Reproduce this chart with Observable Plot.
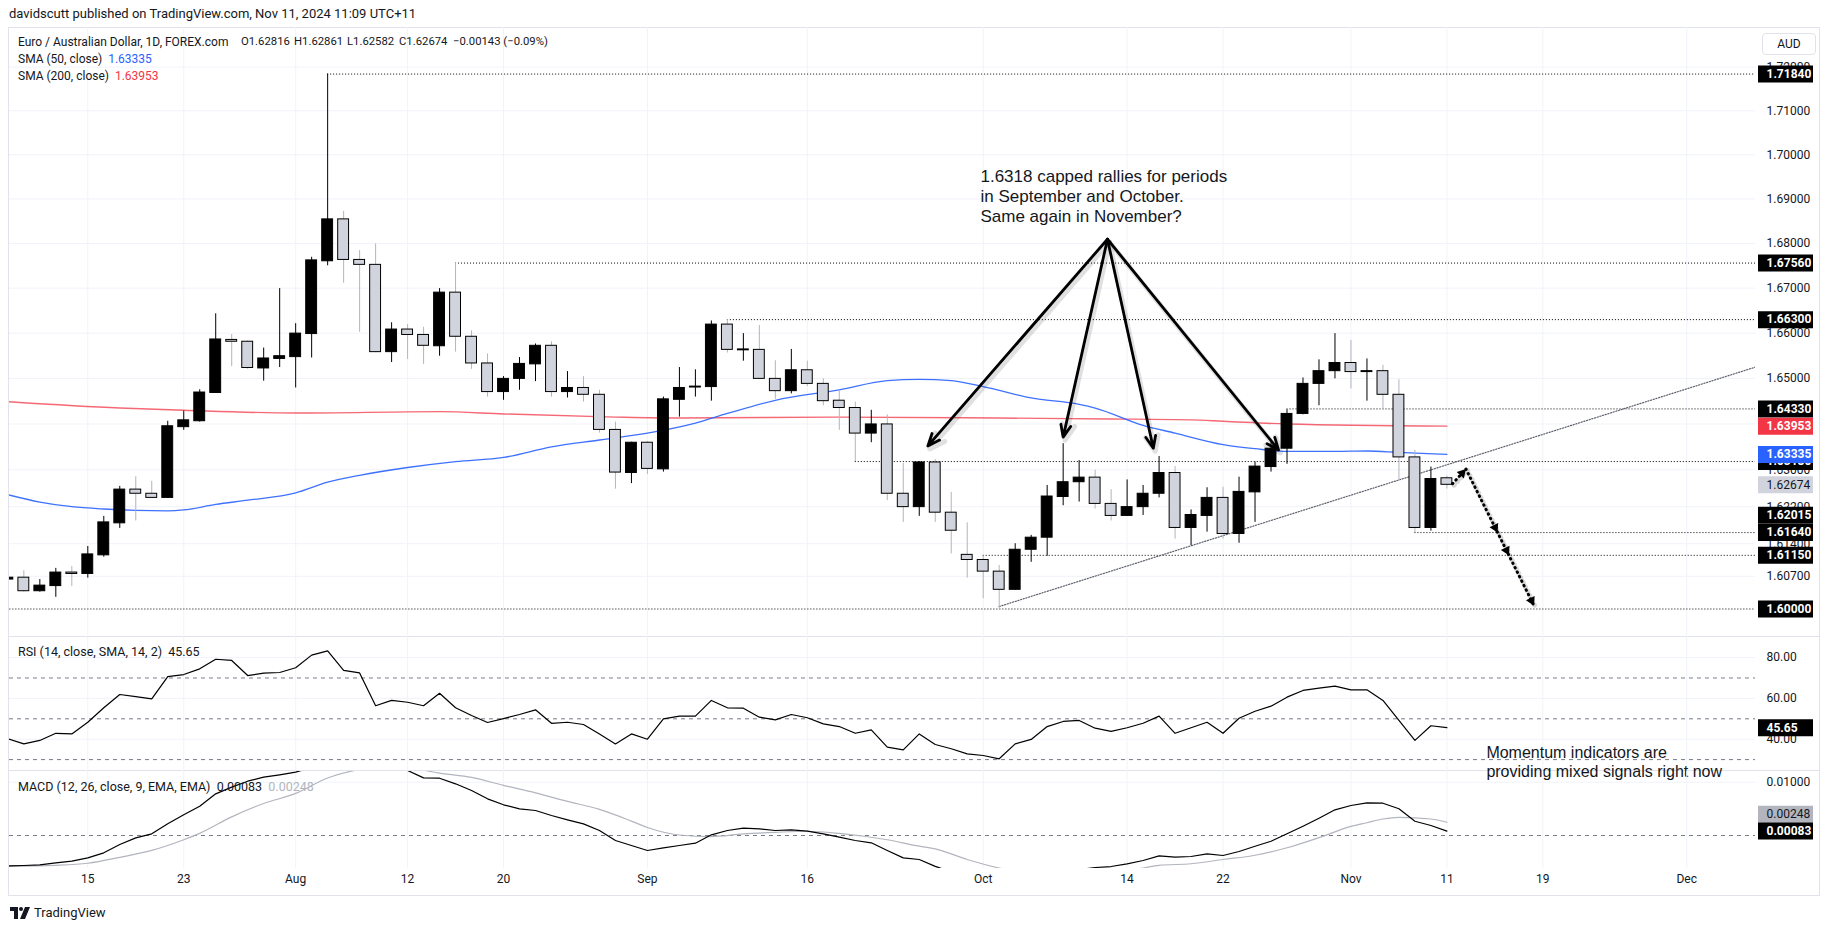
<!DOCTYPE html>
<html>
<head>
<meta charset="utf-8">
<script src="https://cdn.jsdelivr.net/npm/d3@7"></script>
<script src="https://cdn.jsdelivr.net/npm/@observablehq/plot@0.6"></script>
<style>
  html, body { margin: 0; padding: 0; background: #fff; }
  #root { position: relative; width: 1835px; height: 931px; overflow: hidden; background: #fff;
          font-family: Roboto, "Liberation Sans", Arial, sans-serif; color: #131722; }
</style>
</head>
<body>
<div id="root"></div>
<script>
// ---------------- DATA ----------------
// Daily EUR/AUD bars; bar index 0 = 15 Jul 2024 (trading days only)
const firstBar = -5;
const opens = [
  1.6063, 1.6067, 1.6038, 1.6049, 1.6078,
  1.6075, 1.6115, 1.6184, 1.6257, 1.6248,
  1.6239, 1.6393, 1.6406, 1.6468, 1.6585,
  1.6581, 1.6522, 1.6543, 1.6547, 1.6598,
  1.6760, 1.6854, 1.6763, 1.6752, 1.6558,
  1.6608, 1.6596, 1.6571, 1.6690, 1.6592,
  1.6533, 1.6470, 1.6499, 1.6531, 1.6572,
  1.6470, 1.6479, 1.6464, 1.6387, 1.6293,
  1.6359, 1.6301, 1.6453, 1.6480, 1.6481,
  1.6619, 1.6562, 1.6563, 1.6499, 1.6472,
  1.6518, 1.6488, 1.6451, 1.6435, 1.6379,
  1.6399, 1.6248, 1.6219, 1.6316, 1.6207,
  1.6116, 1.6105, 1.6080, 1.6041, 1.6127,
  1.6153, 1.6241, 1.6273, 1.6283, 1.6226,
  1.6200, 1.6219, 1.6248, 1.6293, 1.6174,
  1.6200, 1.6239, 1.6161, 1.6251, 1.6306,
  1.6346, 1.6422, 1.6488, 1.6516, 1.6534,
  1.6514, 1.6516, 1.6464, 1.6327, 1.6174,
  1.62816
];
const highs = [
  1.6070, 1.6082, 1.6063, 1.6087, 1.6091,
  1.6134, 1.6199, 1.6264, 1.6285, 1.6275,
  1.6406, 1.6428, 1.6475, 1.6643, 1.6597,
  1.6583, 1.6567, 1.6699, 1.6621, 1.6769,
  1.7184, 1.6872, 1.6784, 1.6799, 1.6623,
  1.6619, 1.6613, 1.6699, 1.6756, 1.6605,
  1.6554, 1.6504, 1.6546, 1.6576, 1.6581,
  1.6515, 1.6504, 1.6474, 1.6404, 1.6360,
  1.6361, 1.6459, 1.6524, 1.6519, 1.6627,
  1.6630, 1.6599, 1.6617, 1.6539, 1.6564,
  1.6538, 1.6499, 1.6474, 1.6448, 1.6430,
  1.6420, 1.6314, 1.6318, 1.6322, 1.6251,
  1.6185, 1.6114, 1.6093, 1.6140, 1.6158,
  1.6266, 1.6357, 1.6320, 1.6299, 1.6257,
  1.6278, 1.6266, 1.6329, 1.6307, 1.6213,
  1.6261, 1.6262, 1.6284, 1.6317, 1.6360,
  1.6431, 1.6501, 1.6541, 1.6599, 1.6584,
  1.6543, 1.6529, 1.6497, 1.6342, 1.6306,
  1.62861
];
const lows = [
  1.6060, 1.6036, 1.6036, 1.6025, 1.6048,
  1.6066, 1.6111, 1.6173, 1.6189, 1.6238,
  1.6238, 1.6386, 1.6404, 1.6467, 1.6526,
  1.6520, 1.6494, 1.6524, 1.6479, 1.6545,
  1.6750, 1.6711, 1.6602, 1.6557, 1.6535,
  1.6542, 1.6531, 1.6549, 1.6558, 1.6520,
  1.6459, 1.6452, 1.6474, 1.6493, 1.6459,
  1.6457, 1.6448, 1.6380, 1.6258, 1.6270,
  1.6290, 1.6295, 1.6415, 1.6459, 1.6450,
  1.6556, 1.6538, 1.6498, 1.6454, 1.6466,
  1.6482, 1.6440, 1.6386, 1.6318, 1.6359,
  1.6233, 1.6186, 1.6199, 1.6186, 1.6118,
  1.6066, 1.6022, 1.6000, 1.6040, 1.6100,
  1.6113, 1.6222, 1.6230, 1.6215, 1.6189,
  1.6199, 1.6201, 1.6239, 1.6150, 1.6136,
  1.6165, 1.6150, 1.6141, 1.6186, 1.6295,
  1.6312, 1.6420, 1.6440, 1.6499, 1.6477,
  1.6450, 1.6431, 1.6276, 1.6164, 1.6167,
  1.62582
];
const closes = [
  1.6067, 1.6038, 1.6050, 1.6078, 1.6075,
  1.6117, 1.6186, 1.6257, 1.6248, 1.6239,
  1.6395, 1.6408, 1.6469, 1.6586, 1.6581,
  1.6523, 1.6544, 1.6549, 1.6599, 1.6762,
  1.6854, 1.6763, 1.6752, 1.6558, 1.6608,
  1.6596, 1.6572, 1.6690, 1.6592, 1.6533,
  1.6470, 1.6499, 1.6532, 1.6572, 1.6470,
  1.6479, 1.6464, 1.6387, 1.6294, 1.6359,
  1.6302, 1.6454, 1.6479, 1.6482, 1.6619,
  1.6563, 1.6564, 1.6499, 1.6472, 1.6518,
  1.6488, 1.6450, 1.6435, 1.6379, 1.6399,
  1.6248, 1.6219, 1.6316, 1.6207, 1.6168,
  1.6105, 1.6080, 1.6041, 1.6127, 1.6153,
  1.6242, 1.6273, 1.6283, 1.6226, 1.6200,
  1.6219, 1.6248, 1.6293, 1.6174, 1.6202,
  1.6239, 1.6161, 1.6252, 1.6307, 1.6346,
  1.6422, 1.6488, 1.6516, 1.6534, 1.6514,
  1.6516, 1.6464, 1.6327, 1.6174, 1.6280,
  1.62674
];

// Moving averages (bar, value)
const sma50Bars   = [-5, -3, -1, 1, 3, 5, 6, 8, 10, 13, 15, 17, 20, 23, 26, 29, 32, 35, 38, 40, 43, 47, 50, 52, 54, 56, 59, 62, 63, 66, 68, 71, 73, 75, 78, 80, 82, 85];
const sma50Values = [1.6246, 1.6230, 1.6220, 1.6215, 1.6212, 1.6211, 1.6213, 1.6225, 1.6234, 1.6250, 1.6273, 1.6288, 1.6305, 1.6318, 1.6327, 1.6350, 1.6365, 1.6380, 1.6402, 1.6423, 1.6452, 1.6475, 1.6495, 1.6498, 1.6495, 1.6482, 1.6457, 1.6443, 1.6435, 1.6397, 1.6380, 1.6355, 1.6346, 1.6340, 1.6340, 1.6341, 1.6338, 1.63335];
const sma200Bars   = [-5, 2, 6, 13, 22, 26, 33, 37, 47, 57, 64, 69, 71, 75, 85];
const sma200Values = [1.6449, 1.6435, 1.6430, 1.6424, 1.6427, 1.6422, 1.6415, 1.6413, 1.6415, 1.6413, 1.6411, 1.6409, 1.6406, 1.6400, 1.63953];

// RSI (14) per bar from firstBar
const rsiValues = [
  40.2, 37.7, 39.4, 42.9, 42.6,
  48.3, 55.4, 61.9, 60.9, 59.8,
  70.7, 71.7, 74.5, 79.2, 78.6,
  71.2, 72.4, 72.7, 75.0, 81.2,
  83.3, 73.7, 72.5, 56.4, 59.0,
  58.1, 56.4, 62.5, 55.4, 51.6,
  48.2, 50.1, 52.1, 54.4, 47.8,
  48.3, 47.2, 42.6, 37.7, 42.6,
  40.0, 50.0, 51.3, 51.3, 59.0,
  55.4, 55.2, 50.8, 49.5, 52.1,
  50.5, 47.5, 46.2, 42.9, 44.6,
  36.1, 34.8, 42.6, 37.4, 35.3,
  32.8, 32.0, 30.4, 37.7, 39.9,
  46.2, 48.7, 49.2, 45.4, 43.8,
  45.6, 47.8, 51.3, 42.9, 45.6,
  48.3, 42.9, 50.3, 53.7, 56.2,
  60.6, 63.9, 65.0, 66.0, 64.2,
  64.2, 59.0, 49.2, 39.4, 46.6,
  45.65
];
const rsiLevels = [70, 50, 30];
const rsiTicks = [80, 60, 40];

// MACD (12, 26, 9) per bar from firstBar
const macdValues = [
  -0.0057, -0.00563, -0.0055, -0.00513, -0.00482,
  -0.00419, -0.00325, -0.00169, -0.00044, 0.00031,
  0.00219, 0.00388, 0.0055, 0.00782, 0.00907,
  0.01019, 0.01094, 0.01138, 0.01188, 0.0128,
  0.0142, 0.0150, 0.0152, 0.0146, 0.0136,
  0.0122, 0.01082, 0.01075, 0.0097, 0.00844,
  0.00688, 0.00576, 0.00501, 0.00469, 0.00375,
  0.00294, 0.00219, 0.00094, -0.00094, -0.00188,
  -0.00281, -0.00231, -0.00188, -0.00144, 0.00013,
  0.00094, 0.00137, 0.00126, 0.00094, 0.00107,
  0.00081, 0.00031, -0.00031, -0.00094, -0.00137,
  -0.00281, -0.00419, -0.0045, -0.0058, -0.0068,
  -0.0078, -0.0086, -0.0092, -0.0090, -0.0085,
  -0.0077, -0.0070, -0.0064, -0.0060, -0.00582,
  -0.00531, -0.00469, -0.00381, -0.00407, -0.00394,
  -0.00343, -0.00375, -0.0030, -0.00201, -0.00107,
  0.00032, 0.00175, 0.00325, 0.00482, 0.00563,
  0.00613, 0.00606, 0.00501, 0.00268, 0.00188,
  0.00083
];
const signalBars   = [-5, -2, 0, 2, 4, 6, 7, 9, 11, 13, 15, 17, 19, 20, 22, 24, 26, 28, 30, 32, 34, 35, 37, 39, 41, 43, 45, 47, 50, 52, 53, 55, 57, 59, 61, 63, 66, 67, 69, 71, 73, 75, 77, 79, 80, 81, 82, 84, 85];
const signalValues = [-0.0058, -0.0056, -0.0052, -0.0041, -0.0028, -0.0008, 0.0004, 0.0035, 0.0060, 0.0079, 0.0108, 0.0124, 0.0131, 0.0128, 0.0117, 0.0109, 0.0094, 0.0080, 0.0064, 0.0049, 0.0027, 0.0015, 0.0001, -0.0002, 0.0003, 0.0006, 0.0008, 0.0004, -0.0008, -0.0020, -0.0025, -0.0045, -0.0061, -0.0071, -0.0075, -0.0073, -0.0061, -0.0056, -0.0053, -0.0045, -0.0037, -0.0023, -0.0004, 0.0017, 0.0024, 0.0031, 0.0034, 0.0031, 0.00248];
const macdTicks = [0.01];

// Time axis
const tickBars   = [0, 6, 13, 20, 26, 35, 45, 56, 65, 71, 79, 85, 91, 100];
const tickLabels = ["15", "23", "Aug", "12", "20", "Sep", "16", "Oct", "14", "22", "Nov", "11", "19", "Dec"];

// Price axis labels
const priceTicks = [1.72, 1.71, 1.70, 1.69, 1.68, 1.67, 1.66, 1.65, 1.64, 1.63, 1.622, 1.614, 1.607];
const priceTagValues = [1.7184, 1.6756, 1.6630, 1.6433, 1.6318, 1.63953, 1.63335, 1.62674, 1.62015, 1.6164, 1.6115, 1.6000];
const priceTagKinds  = ["level", "level", "level", "level", "level", "sma200", "sma50", "last", "level", "level", "level", "level"];

// Horizontal drawn levels (price, first bar)
const levelPrices = [1.7184, 1.6756, 1.6630, 1.6433, 1.6318, 1.6164, 1.6115, 1.6000];
const levelStarts = [15, 23, 40, 75, 48, 83, 56, -6];

// Rising trend line (bar, price)
const trendBars = [57, 104.3];
const trendPrices = [1.60053, 1.6525];

// Callout arrows: apex and targets (bar, price)
const calloutApexBar = 63.77, calloutApexPrice = 1.68094;
const calloutTargetBars = [52.54, 61.0, 66.64, 74.47];
const calloutTargetPrices = [1.6352, 1.63712, 1.6347, 1.63433];
const calloutText = "1.6318 capped rallies for periods\nin September and October.\nSame again in November?";
const calloutTextBar = 55.83, calloutTextPrice = 1.69078;

// Forecast dotted path (bar, price)
const forecastBars = [85.35, 86.19, 88.17, 88.88, 90.45];
const forecastPrices = [1.62697, 1.63018, 1.6164, 1.6115, 1.6007];

const momentumText = "Momentum indicators are\nproviding mixed signals right now";
const momentumBar = 87.47, momentumRsi = 28.97;

// Legend
const legendTitle = "Euro / Australian Dollar, 1D, FOREX.com";
const legendChange = "−0.00143 (−0.09%)";

// ---------------- LAYOUT / STYLE ----------------
const plotLeft = 9, plotW = 1746, axisLeft = 1755, axisW = 65;
const priceTop = 27, priceH = 610;
const rsiTop = 637, rsiH = 134;
const macdTop = 771, macdH = 97, timeH = 27;
const xDomain = [-4.897, 104.30];
const priceDomain = [1.593926, 1.729115];
const rsiDomain = [24.17, 89.85];
const macdDomain = [-0.00619, 0.01201];
const gridColor = "#f0f3fa";
const font = "Roboto, 'Liberation Sans', Arial, sans-serif";
const baseStyle = {background: "transparent", fontFamily: font, fontSize: "12px", overflow: "visible", maxWidth: "none"};
const tagStyles = {
  level:  {bg: "#000000", fg: "#ffffff", weight: "bold"},
  sma200: {bg: "#f23645", fg: "#ffffff", weight: "bold"},
  sma50:  {bg: "#2962ff", fg: "#ffffff", weight: "bold"},
  last:   {bg: "#d1d4dc", fg: "#131722", weight: "normal"}
};

const root = document.getElementById("root");
function addDiv(css, html) {
  const d = document.createElement("div");
  d.style.cssText = css;
  if (html != null) d.innerHTML = html;
  root.appendChild(d);
  return d;
}
function place(svg, left, top) {
  svg.style.position = "absolute";
  svg.style.left = left + "px";
  svg.style.top = top + "px";
  root.appendChild(svg);
}

// frame and separators
addDiv("position:absolute;left:8px;top:27px;width:1812px;height:869px;border:1px solid #e0e3eb;box-sizing:border-box;");
addDiv("position:absolute;left:9px;top:636px;width:1811px;height:1px;background:#e0e3eb;");
addDiv("position:absolute;left:9px;top:770px;width:1811px;height:1px;background:#e0e3eb;");

// ---------------- derived tables ----------------
const bars = opens.map((o, i) => ({bar: firstBar + i, open: o, high: highs[i], low: lows[i], close: closes[i]}));
const isUp = d => d.close >= d.open;
const sma50 = sma50Bars.map((b, i) => ({bar: b, value: sma50Values[i]}));
const sma200 = sma200Bars.map((b, i) => ({bar: b, value: sma200Values[i]}));
const levels = levelPrices.map((p, i) => ({price: p, bar: levelStarts[i]}));
const trend = trendBars.map((b, i) => ({bar: b, price: trendPrices[i]}));
const callouts = calloutTargetBars.map((b, i) => ({bar: b, price: calloutTargetPrices[i]}));
const forecast = forecastBars.map((b, i) => ({bar: b, price: forecastPrices[i]}));
const rsi = rsiValues.map((v, i) => ({bar: firstBar + i, value: v}));
const macd = macdValues.map((v, i) => ({bar: firstBar + i, value: v}));
const signal = signalBars.map((b, i) => ({bar: b, value: signalValues[i]}));
const ticks = tickBars.map((b, i) => ({bar: b, label: tickLabels[i]}));

// arrow heads for the dotted forecast path, oriented in screen space
const xS = Plot.scale({x: {domain: xDomain, range: [0, plotW]}});
const yS = Plot.scale({y: {type: "log", domain: priceDomain, range: [priceH, 0]}});
const headR = 3.6;
const tipOff = 2 * Math.sqrt(Math.PI * headR * headR / (3 * Math.sqrt(3)));
const heads = forecast.slice(1).map((p1, k) => {
  const p0 = forecast[k];
  const x0 = xS.apply(p0.bar), y0 = yS.apply(p0.price);
  const x1 = xS.apply(p1.bar), y1 = yS.apply(p1.price);
  const dx = x1 - x0, dy = y1 - y0, L = Math.hypot(dx, dy);
  const cx = x1 - dx / L * tipOff, cy = y1 - dy / L * tipOff;
  return {bar: xS.invert(cx), price: yS.invert(cy), angle: Math.atan2(dx, -dy) * 180 / Math.PI};
});

// ---------------- PRICE PANE ----------------
const pricePlot = Plot.plot({
  width: plotW, height: priceH, margin: 0,
  x: {domain: xDomain, axis: null},
  y: {type: "log", domain: priceDomain, axis: null},
  color: {type: "identity"},
  style: baseStyle,
  marks: [
    Plot.ruleX(tickBars, {x: d => d, stroke: gridColor}),
    Plot.ruleY(priceTicks, {y: d => d, stroke: gridColor}),
    Plot.line(sma200, {x: "bar", y: "value", stroke: "#f23645", strokeOpacity: 0.75, strokeWidth: 1.4, curve: "monotone-x", clip: true}),
    Plot.line(sma50, {x: "bar", y: "value", stroke: "#2962ff", strokeOpacity: 0.9, strokeWidth: 1.3, curve: "monotone-x", clip: true}),
    Plot.ruleY(levels, {y: "price", x1: "bar", x2: xDomain[1], stroke: "#000", strokeWidth: 1, strokeDasharray: "1,2", clip: true}),
    Plot.line(trend, {x: "bar", y: "price", stroke: "#5d606b", strokeWidth: 1.2, strokeDasharray: "1.2,1.6", clip: true}),
    Plot.ruleX(bars, {x: "bar", y1: "low", y2: "high", stroke: d => isUp(d) ? "#000000" : "#b2b5be", strokeWidth: 1, clip: true}),
    Plot.rect(bars, {x1: d => d.bar - 0.34, x2: d => d.bar + 0.34, y1: "open", y2: "close",
      fill: d => isUp(d) ? "#000000" : "#d1d4dc", stroke: "#000", strokeWidth: 1, clip: true}),
    Plot.arrow(callouts, {x1: () => calloutApexBar + 0.12, y1: () => calloutApexPrice * 0.9996, x2: d => d.bar + 0.12, y2: d => d.price * 0.9996,
      stroke: "#000", strokeOpacity: 0.12, strokeWidth: 5, headLength: 5, headAngle: 45}),
    Plot.arrow(callouts, {x1: () => calloutApexBar, y1: () => calloutApexPrice, x2: "bar", y2: "price",
      stroke: "#000", strokeWidth: 2.8, headLength: 7, headAngle: 45}),
    Plot.text([calloutText], {x: () => calloutTextBar, y: () => calloutTextPrice, text: d => d,
      textAnchor: "start", lineAnchor: "middle", lineHeight: 1.2, fontSize: 17, fill: "#131722",
      fontFamily: "'Liberation Sans', Arial, sans-serif"}),
    Plot.line(forecast, {x: "bar", y: "price", stroke: "#000", strokeOpacity: 0.15, strokeWidth: 5, strokeDasharray: "0.5,4.5", strokeLinecap: "round", dx: 1.5, dy: 1.5}),
    Plot.line(forecast, {x: "bar", y: "price", stroke: "#000", strokeWidth: 3, strokeDasharray: "0.5,4.5", strokeLinecap: "round"}),
    Plot.dot(heads, {x: "bar", y: "price", rotate: "angle", symbol: "triangle", r: headR, fill: "#000", stroke: "none"})
  ]
});
place(pricePlot, plotLeft, priceTop);

// price axis
const priceTags = priceTagValues.map((v, i) => ({value: v, ...tagStyles[priceTagKinds[i]]}));
const priceAxis = Plot.plot({
  width: axisW, height: priceH, marginLeft: 3, marginRight: 7, marginTop: 0, marginBottom: 0,
  y: {type: "log", domain: priceDomain, axis: null},
  color: {type: "identity"},
  style: baseStyle,
  marks: [
    Plot.text(priceTicks, {y: d => d, text: d => d.toFixed(5), frameAnchor: "left", dx: 8, textAnchor: "start", fill: "#131722", fontSize: 12}),
    ...priceTags.flatMap(t => [
      Plot.ruleY([t], {y: "value", stroke: "bg", strokeWidth: 17}),
      Plot.text([t], {y: "value", text: d => d.value.toFixed(5), frameAnchor: "left", dx: 8, textAnchor: "start", fill: "fg", fontWeight: t.weight, fontSize: 12})
    ])
  ]
});
place(priceAxis, axisLeft, priceTop);

// ---------------- RSI PANE ----------------
const rsiPlot = Plot.plot({
  width: plotW, height: rsiH, margin: 0,
  x: {domain: xDomain, axis: null},
  y: {domain: rsiDomain, axis: null},
  style: baseStyle,
  marks: [
    Plot.ruleX(tickBars, {x: d => d, stroke: gridColor}),
    Plot.ruleY(rsiTicks, {y: d => d, stroke: gridColor}),
    Plot.ruleY(rsiLevels, {y: d => d, stroke: "#787b86", strokeDasharray: "4,4"}),
    Plot.line(rsi, {x: "bar", y: "value", stroke: "#000", strokeWidth: 1.2, clip: true}),
    Plot.text([momentumText], {x: () => momentumBar, y: () => momentumRsi, text: d => d, textAnchor: "start",
      lineAnchor: "middle", lineHeight: 1.19, fontSize: 16, fill: "#131722", fontFamily: "'Liberation Sans', Arial, sans-serif"})
  ]
});
place(rsiPlot, plotLeft, rsiTop);

const rsiLast = rsiValues[rsiValues.length - 1];
const rsiAxis = Plot.plot({
  width: axisW, height: rsiH, marginLeft: 3, marginRight: 7, marginTop: 0, marginBottom: 0,
  y: {domain: rsiDomain, axis: null},
  style: baseStyle,
  marks: [
    Plot.text(rsiTicks, {y: d => d, text: d => d.toFixed(2), frameAnchor: "left", dx: 8, textAnchor: "start", fill: "#131722", fontSize: 12}),
    Plot.ruleY([rsiLast], {y: d => d, stroke: "#000", strokeWidth: 17}),
    Plot.text([rsiLast], {y: d => d, text: d => d.toFixed(2), frameAnchor: "left", dx: 8, textAnchor: "start", fill: "#fff", fontWeight: "bold", fontSize: 12})
  ]
});
place(rsiAxis, axisLeft, rsiTop);

// ---------------- MACD PANE + TIME AXIS ----------------
const macdPlot = Plot.plot({
  width: plotW, height: macdH + timeH, marginLeft: 0, marginRight: 0, marginTop: 0, marginBottom: timeH,
  x: {domain: xDomain, axis: null},
  y: {domain: macdDomain, axis: null},
  style: baseStyle,
  marks: [
    Plot.ruleX(tickBars, {x: d => d, stroke: gridColor}),
    Plot.ruleY(macdTicks, {y: d => d, stroke: gridColor}),
    Plot.ruleY([0], {y: d => d, stroke: "#787b86", strokeDasharray: "4,4"}),
    Plot.line(signal, {x: "bar", y: "value", stroke: "#b2b5be", strokeWidth: 1.2, curve: "monotone-x", clip: true}),
    Plot.line(macd, {x: "bar", y: "value", stroke: "#000", strokeWidth: 1.2, clip: true}),
    Plot.text(ticks, {x: "bar", text: "label", frameAnchor: "bottom", dy: 14, fontSize: 12, fill: "#131722"})
  ]
});
place(macdPlot, plotLeft, macdTop);

const macdLast = macdValues[macdValues.length - 1];
const signalLast = signalValues[signalValues.length - 1];
const macdAxis = Plot.plot({
  width: axisW, height: macdH, marginLeft: 3, marginRight: 7, marginTop: 0, marginBottom: 0,
  y: {domain: macdDomain, axis: null},
  style: baseStyle,
  marks: [
    Plot.text(macdTicks, {y: d => d, text: d => d.toFixed(5), frameAnchor: "left", dx: 8, textAnchor: "start", fill: "#131722", fontSize: 12}),
    Plot.ruleY([signalLast], {y: d => d, stroke: "#b2b5be", strokeWidth: 17, dy: -8}),
    Plot.text([signalLast], {y: d => d, text: d => d.toFixed(5), frameAnchor: "left", dx: 8, dy: -8, textAnchor: "start", fill: "#131722", fontSize: 12}),
    Plot.ruleY([macdLast], {y: d => d, stroke: "#000", strokeWidth: 17}),
    Plot.text([macdLast], {y: d => d, text: d => d.toFixed(5), frameAnchor: "left", dx: 8, textAnchor: "start", fill: "#fff", fontWeight: "bold", fontSize: 12})
  ]
});
place(macdAxis, axisLeft, macdTop);

// ---------------- HTML TEXT ----------------
const last = bars[bars.length - 1];
const txt = "position:absolute;white-space:pre;color:#131722;line-height:16px;";
addDiv(txt + "left:9px;top:6px;font-size:13px;",
  "davidscutt published on TradingView.com, Nov 11, 2024 11:09 UTC+11");
addDiv(txt + "left:18px;top:34px;font-size:12px;", legendTitle);
const ohlcItems = [`O${last.open.toFixed(5)}`, `H${last.high.toFixed(5)}`, `L${last.low.toFixed(5)}`, `C${last.close.toFixed(5)}`, legendChange];
const ohlcLefts = [241, 294, 347, 399, 453];
ohlcItems.forEach((s, i) => addDiv(txt + `left:${ohlcLefts[i]}px;top:34px;font-size:11.3px;`, s));
addDiv(txt + "left:18px;top:51px;font-size:12px;",
  `SMA (50, close)  <span style="color:#2962ff">${sma50Values[sma50Values.length - 1].toFixed(5)}</span>`);
addDiv(txt + "left:18px;top:68px;font-size:12px;",
  `SMA (200, close)  <span style="color:#f23645">${sma200Values[sma200Values.length - 1].toFixed(5)}</span>`);
addDiv(txt + "left:18px;top:644px;font-size:12.5px;",
  `RSI (14, close, SMA, 14, 2)  ${rsiLast.toFixed(2)}`);
addDiv(txt + "left:18px;top:779px;font-size:12.5px;",
  `MACD (12, 26, close, 9, EMA, EMA)  ${macdLast.toFixed(5)}  <span style="color:#b2b5be">${signalLast.toFixed(5)}</span>`);
addDiv("position:absolute;left:1762px;top:33px;width:54px;height:22px;border:1px solid #e0e3eb;border-radius:4px;box-sizing:border-box;background:#fff;font-size:12px;line-height:20px;text-align:center;color:#131722;",
  "AUD");
addDiv(txt + "left:10px;top:905px;font-size:13px;display:flex;align-items:center;gap:4px;",
  `<svg width="20" height="12" viewBox="0 0 20 12"><path d="M0 0H8V12H4V4H0Z" fill="#131722"/><circle cx="11" cy="2" r="2" fill="#131722"/><path d="M15 0H20L15 12H10Z" fill="#131722"/></svg><span>TradingView</span>`);
</script>
</body>
</html>
